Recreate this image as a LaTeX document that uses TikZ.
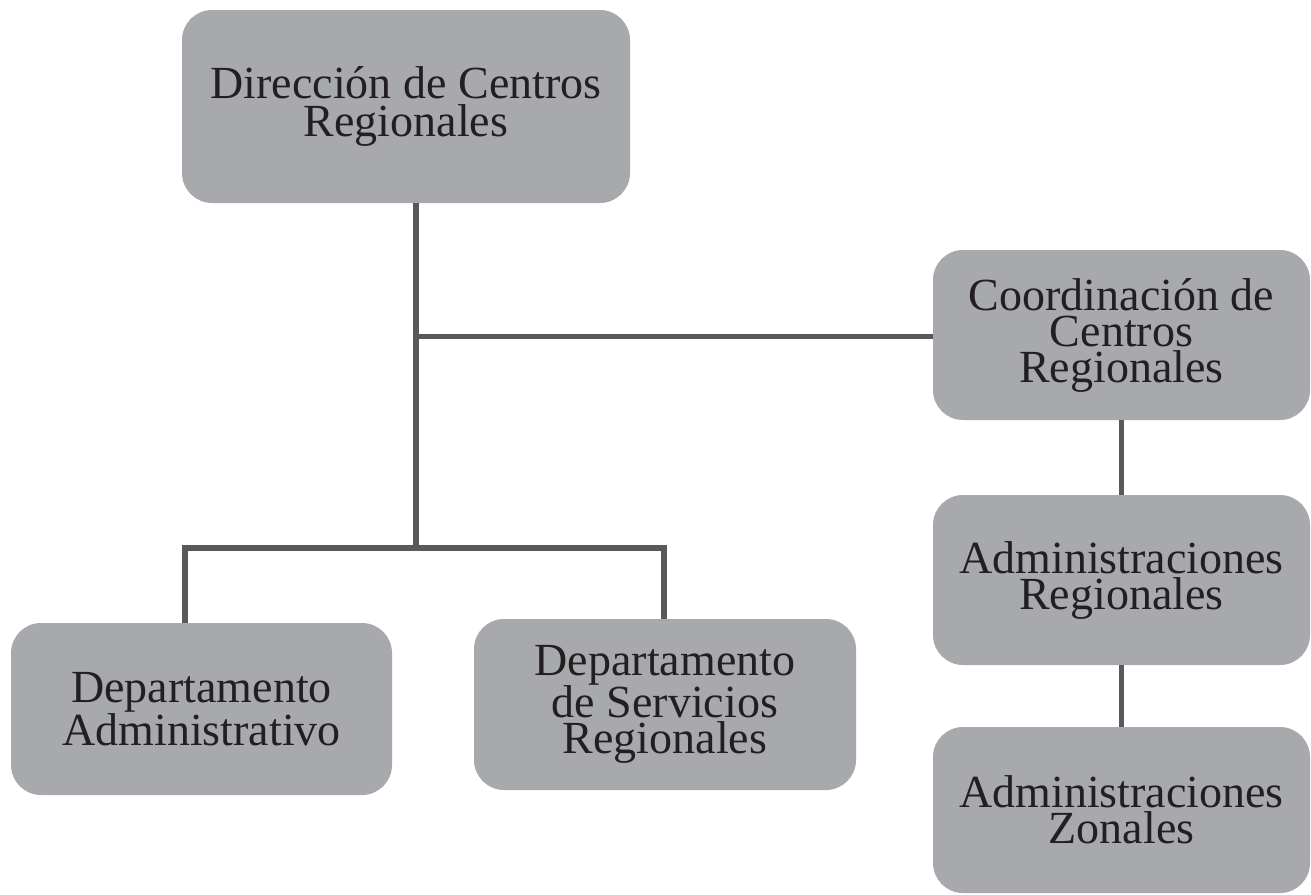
\documentclass[tikz,border=0pt]{standalone}
\usepackage{fontspec}
\setmainfont{Liberation Serif}
\definecolor{boxgray}{HTML}{A7A9AC}
\definecolor{linegray}{HTML}{58595B}
\definecolor{txt}{HTML}{231F20}
\begin{document}
\begin{tikzpicture}[x=1pt,y=-1pt,
  orgbox/.style={fill=boxgray, draw=none, rounded corners=30pt, inner sep=0pt,
    text=txt, align=center, font=\fontsize{46}{36}\selectfont},
  conn/.style={draw=linegray, line width=5.5pt}]
\useasboundingbox (0,0) rectangle (1311,894);
\node[orgbox, minimum width=448pt, minimum height=193pt] (dir) at (406,106.5) {Dirección de Centros\\[2pt]Regionales};
\node[orgbox, minimum width=377pt, minimum height=170pt] (coord) at (1121.5,335) {Coordinación de\\Centros\\Regionales};
\node[orgbox, minimum width=377pt, minimum height=170pt] (areg) at (1121.5,580) {Administraciones\\Regionales};
\node[orgbox, minimum width=377pt, minimum height=166pt] (azon) at (1121.5,810) {Administraciones\\Zonales};
\node[orgbox, minimum width=381pt, minimum height=172pt] (dadm) at (201.5,709) {Departamento\\Administrativo};
\node[orgbox, minimum width=382pt, minimum height=171pt] (dserv) at (665,704.5) {Departamento\\de Servicios\\Regionales};
\coordinate (j1) at (416,336.5);
\coordinate (j2) at (416,548);
\coordinate (jl) at (185,548);
\coordinate (jr) at (664,548);
\draw[conn] (dir.south -| j1) -- (j2);
\draw[conn] (j1) -- (j1 -| coord.west);
\draw[conn] ([xshift=-2.75pt]jl) -- ([xshift=2.75pt]jr);
\draw[conn] (jl) -- (jl |- dadm.north);
\draw[conn] (jr) -- (jr |- dserv.north);
\draw[conn] (coord.south) -- (areg.north);
\draw[conn] (areg.south) -- (azon.north);
\end{tikzpicture}
\end{document}
